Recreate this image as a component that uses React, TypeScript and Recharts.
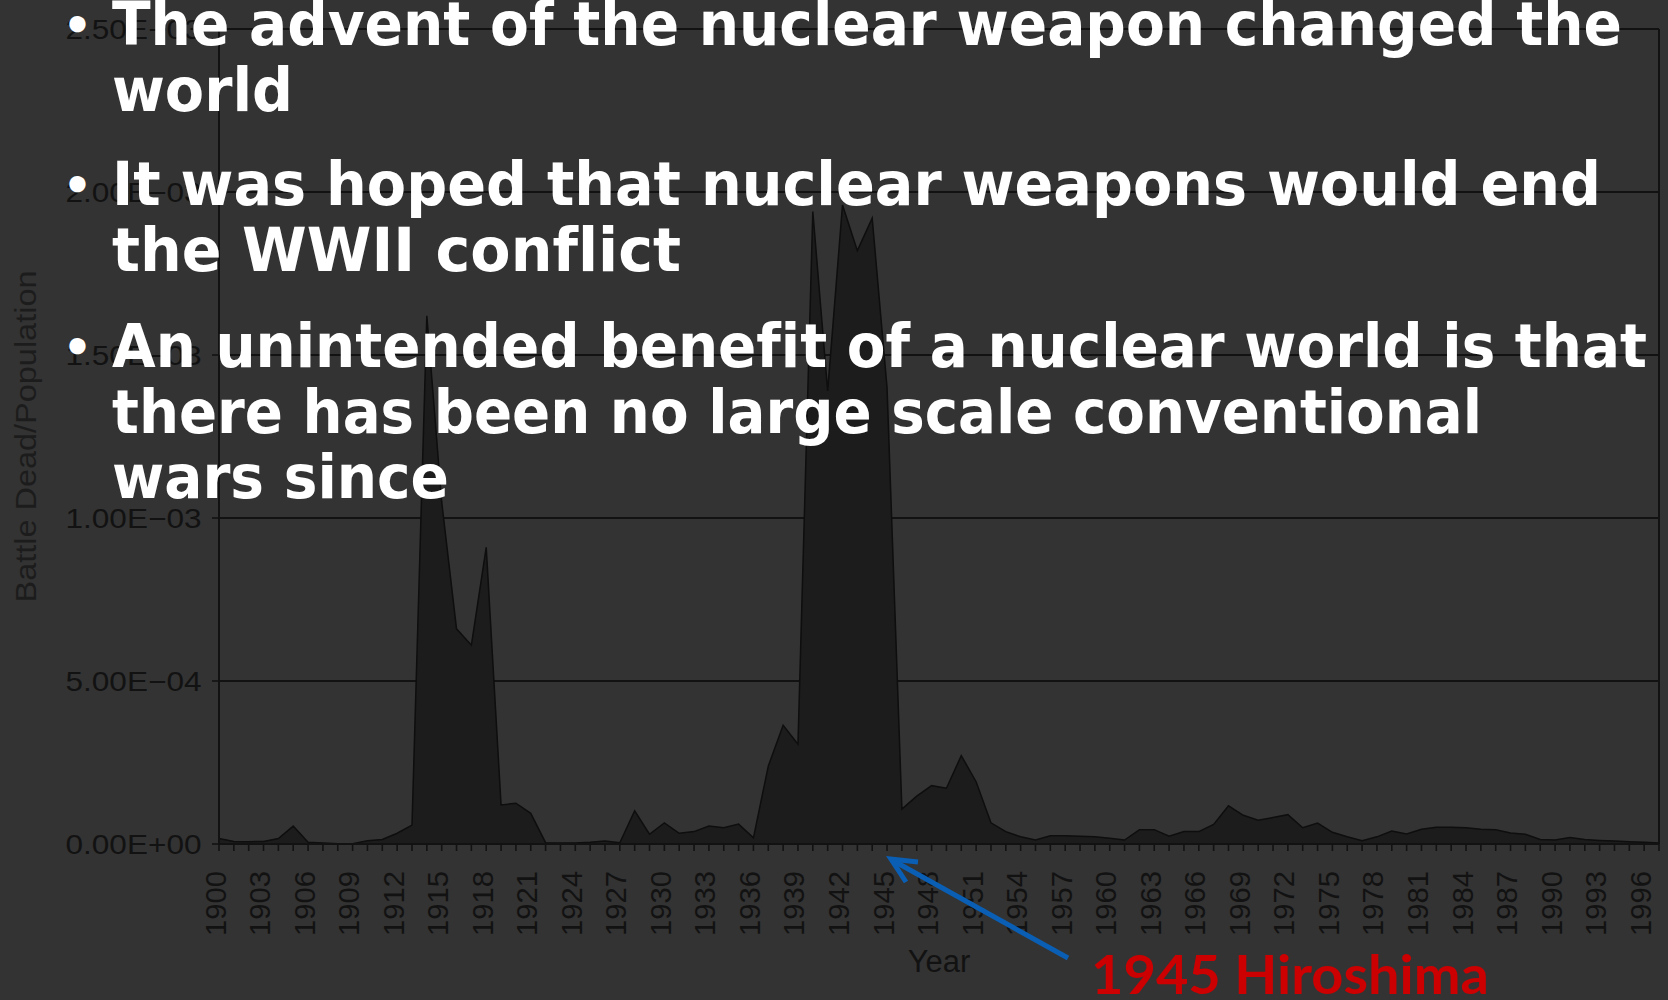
import React from "react";
import { AreaChart, Area, XAxis, YAxis, CartesianGrid, ReferenceLine, Label } from "recharts";

// ---------- data ----------
const years = [
  1900, 1901, 1902, 1903, 1904, 1905, 1906, 1907, 1908, 1909,
  1910, 1911, 1912, 1913, 1914, 1915, 1916, 1917, 1918, 1919,
  1920, 1921, 1922, 1923, 1924, 1925, 1926, 1927, 1928, 1929,
  1930, 1931, 1932, 1933, 1934, 1935, 1936, 1937, 1938, 1939,
  1940, 1941, 1942, 1943, 1944, 1945, 1946, 1947, 1948, 1949,
  1950, 1951, 1952, 1953, 1954, 1955, 1956, 1957, 1958, 1959,
  1960, 1961, 1962, 1963, 1964, 1965, 1966, 1967, 1968, 1969,
  1970, 1971, 1972, 1973, 1974, 1975, 1976, 1977, 1978, 1979,
  1980, 1981, 1982, 1983, 1984, 1985, 1986, 1987, 1988, 1989,
  1990, 1991, 1992, 1993, 1994, 1995, 1996, 1997,
];

// Battle dead / population
const battleDeadPerPop = [
  1.7e-5, 0.8e-5, 0.7e-5, 0.8e-5, 1.7e-5, 5.5e-5, 0.5e-5, 0.3e-5, 0.1e-5, 0.1e-5,
  1.0e-5, 1.4e-5, 3.3e-5, 5.8e-5, 1.62e-3, 1.05e-3, 6.6e-4, 6.1e-4, 9.1e-4, 1.2e-4,
  1.25e-4, 9.4e-5, 0.4e-5, 0.3e-5, 0.3e-5, 0.5e-5, 0.9e-5, 0.4e-5, 1.02e-4, 3.0e-5,
  6.5e-5, 3.3e-5, 3.8e-5, 5.5e-5, 5.0e-5, 6.1e-5, 1.9e-5, 2.39e-4, 3.64e-4, 3.06e-4,
  1.94e-3, 1.39e-3, 1.96e-3, 1.82e-3, 1.92e-3, 1.40e-3, 1.07e-4, 1.47e-4, 1.79e-4, 1.71e-4,
  2.71e-4, 1.91e-4, 6.5e-5, 3.8e-5, 2.2e-5, 1.2e-5, 2.5e-5, 2.5e-5, 2.4e-5, 2.2e-5,
  1.8e-5, 1.2e-5, 4.4e-5, 4.4e-5, 2.4e-5, 3.8e-5, 3.8e-5, 6.0e-5, 1.17e-4, 8.8e-5,
  7.3e-5, 8.1e-5, 9.0e-5, 5.0e-5, 6.4e-5, 3.6e-5, 2.2e-5, 1.0e-5, 2.2e-5, 4.0e-5,
  3.1e-5, 4.5e-5, 5.1e-5, 5.1e-5, 5.0e-5, 4.5e-5, 4.4e-5, 3.4e-5, 3.0e-5, 1.4e-5,
  1.2e-5, 2.0e-5, 1.4e-5, 1.1e-5, 0.9e-5, 0.7e-5, 0.5e-5, 0.3e-5,
];

const yTicks = [0, 0.0005, 0.001, 0.0015, 0.002, 0.0025];
const yTickLabels = ["0.00E+00", "5.00E\u221204", "1.00E\u221203", "1.50E\u221203", "2.00E\u221203", "2.50E\u221203"];

const xTickLabels = [
  "1900", "1903", "1906", "1909", "1912", "1915", "1918", "1921", "1924", "1927",
  "1930", "1933", "1936", "1939", "1942", "1945", "1948", "1951", "1954", "1957",
  "1960", "1963", "1966", "1969", "1972", "1975", "1978", "1981", "1984", "1987",
  "1990", "1993", "1996",
];

const xAxisTitle = "Year";
const yAxisTitle = "Battle Dead/Population";

const bulletLines = [
  { text: "The advent of the nuclear weapon changed the", bullet: true, width: 1510 },
  { text: "world", bullet: false, width: 181 },
  { text: "It was hoped that nuclear weapons would end", bullet: true, width: 1489 },
  { text: "the WWII conflict", bullet: false, width: 569 },
  { text: "An unintended benefit of a nuclear world is that", bullet: true, width: 1535 },
  { text: "there has been no large scale conventional", bullet: false, width: 1370 },
  { text: "wars since", bullet: false, width: 337 },
];
const bulletBaselines = [45, 110.5, 205, 271, 367, 432.5, 498];

const annotationText = "1945 Hiroshima";

const data = years.map((year, i) => ({ year, value: battleDeadPerPop[i] }));

// ---------- styles ----------
const BG = "#333333";
const INK = "#121212";
const AXIS_FONT = "'Liberation Sans', Arial, Helvetica, sans-serif";
const SLIDE_FONT = "'DejaVu Sans', Verdana, sans-serif";

const XTick = (props: any) => {
  const { x, y, payload } = props;
  const label = String(payload.value);
  if (!xTickLabels.includes(label)) return <g />;
  const bx = x + 6.5;
  return (
    <text
      x={bx}
      y={y}
      transform={`rotate(-90, ${bx}, ${y})`}
      textAnchor="end"
      fontSize={30}
      fontFamily={AXIS_FONT}
      fill={INK}
      textLength={65}
      lengthAdjust="spacingAndGlyphs"
    >
      {label}
    </text>
  );
};

const YTick = (props: any) => {
  const { x, y, payload } = props;
  const idx = yTicks.indexOf(payload.value);
  const label = idx >= 0 ? yTickLabels[idx] : "";
  return (
    <text
      x={x}
      y={y}
      textAnchor="end"
      dominantBaseline="central"
      fontSize={27.5}
      fontFamily={AXIS_FONT}
      fill={INK}
      textLength={136}
      lengthAdjust="spacingAndGlyphs"
    >
      {label}
    </text>
  );
};

const YearLabel = (props: any) => {
  const vb = props.viewBox || { x: 219, y: 844, width: 1440, height: 60 };
  return (
    <text
      x={vb.x + vb.width / 2}
      y={vb.y + 128}
      textAnchor="middle"
      fontSize={31}
      fontFamily={AXIS_FONT}
      fill={INK}
    >
      {xAxisTitle}
    </text>
  );
};

const YTitle = (props: any) => {
  const vb = props.viewBox || { x: 139, y: 29, width: 80, height: 815 };
  const bx = vb.x + vb.width - 183.5;
  const cy = vb.y + vb.height / 2;
  return (
    <text
      x={bx}
      y={cy}
      transform={`rotate(-90, ${bx}, ${cy})`}
      textAnchor="middle"
      fontSize={30}
      fontFamily={AXIS_FONT}
      fill="#1c1c1c"
      textLength={332}
      lengthAdjust="spacingAndGlyphs"
    >
      {yAxisTitle}
    </text>
  );
};

export default function App() {
  return (
    <div
      style={{
        position: "absolute",
        left: 0,
        top: 0,
        width: 1668,
        height: 1000,
        background: BG,
        overflow: "hidden",
      }}
    >
      <AreaChart
        width={1668}
        height={1000}
        data={data}
        margin={{ top: 29, right: 9, left: 139, bottom: 96 }}
      >
        <CartesianGrid vertical={false} stroke={INK} strokeWidth={1.8} />
        <XAxis
          dataKey="year"
          type="number"
          domain={[1900, 1997]}
          ticks={years}
          interval={0}
          tickSize={7}
          tickMargin={20}
          tick={XTick}
          height={60}
          axisLine={{ stroke: INK, strokeWidth: 2 }}
          tickLine={{ stroke: INK, strokeWidth: 1.6 }}
        >
          <Label content={YearLabel} />
        </XAxis>
        <YAxis
          type="number"
          domain={[0, 0.0025]}
          ticks={yTicks}
          interval={0}
          width={80}
          tickSize={7}
          tickMargin={10.5}
          tick={YTick}
          axisLine={{ stroke: INK, strokeWidth: 2 }}
          tickLine={{ stroke: INK, strokeWidth: 1.6 }}
        >
          <Label content={YTitle} />
        </YAxis>
        <Area
          type="linear"
          dataKey="value"
          stroke="#0e0e0e"
          strokeWidth={1.5}
          fill="#1c1c1c"
          fillOpacity={1}
          dot={false}
          activeDot={false}
          isAnimationActive={false}
        />
        <ReferenceLine x={1997} stroke={INK} strokeWidth={2} />
      </AreaChart>

      <svg
        width={1668}
        height={1000}
        style={{ position: "absolute", left: 0, top: 0, pointerEvents: "none" }}
      >
        {bulletLines.map((ln, i) => (
          <g key={i}>
            {ln.bullet && (
              <text
                x={77.5}
                y={bulletBaselines[i] - 4}
                textAnchor="middle"
                fontSize={46}
                fontWeight="bold"
                fontFamily={SLIDE_FONT}
                fill="#ffffff"
              >
                {"\u2022"}
              </text>
            )}
            <text
              x={112}
              y={bulletBaselines[i]}
              fontSize={60}
              fontWeight="bold"
              fontFamily={SLIDE_FONT}
              fill="#ffffff"
              textLength={ln.width}
              lengthAdjust="spacingAndGlyphs"
              style={{ fontVariantLigatures: "none" }}
            >
              {ln.text}
            </text>
          </g>
        ))}

        <g stroke="#0a5fb4" strokeWidth={5} strokeLinecap="butt" fill="none">
          <line x1={1068} y1={958} x2={892} y2={860} />
          <polyline points="918,862 891,859 906,882" strokeLinejoin="miter" />
        </g>

        <text
          x={1091}
          y={994}
          fontSize={54}
          fontWeight={700}
          fontFamily="Lato, 'Open Sans', sans-serif"
          fill="#cc0000"
          textLength={398}
          lengthAdjust="spacingAndGlyphs"
        >
          {annotationText}
        </text>
      </svg>
    </div>
  );
}
